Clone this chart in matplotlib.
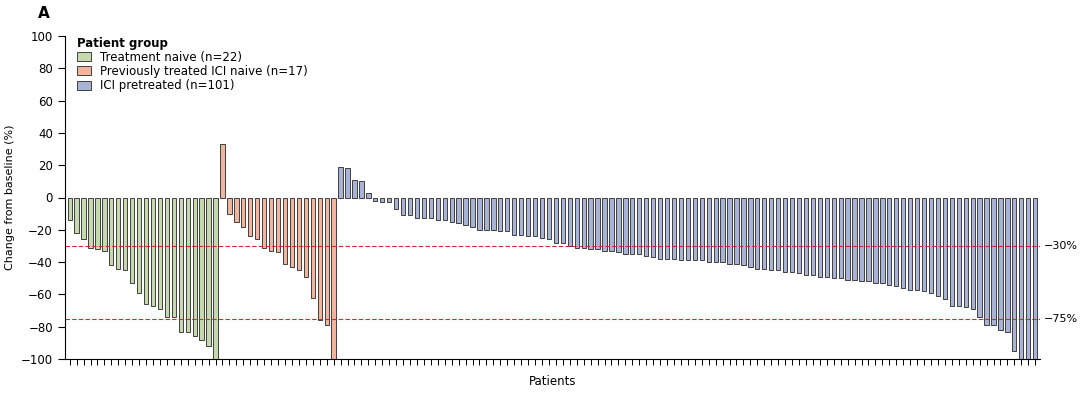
import matplotlib.pyplot as plt
import numpy as np

# Best percentage change from baseline, per patient, by group
naive = [-14, -22, -26, -31, -32, -33, -42, -44, -45, -53, -59, -66, -67, -69,
         -74, -74, -83, -83, -86, -88, -92, -100]
prev_treated = [33, -10, -15, -18, -24, -26, -31, -33, -34, -41, -43, -45, -49,
                -62, -76, -79, -100]
ici_pretreated = [19, 18, 11, 10, 3,
                  -2, -3, -3, -7, -11, -11, -13, -13, -13, -14, -14, -15, -16, -17,
                  -18, -20, -20, -20, -21, -21, -23, -23, -24, -24, -25, -26, -28,
                  -28, -30, -31, -31, -32, -32, -33, -33, -34, -35, -35, -35, -36,
                  -37, -38, -38, -38, -39, -39, -39, -39, -40,
                  -40, -40, -41, -41, -42, -43, -44, -44, -45, -45, -46, -46, -47,
                  -48, -48, -49, -49, -50, -50, -51, -51, -52, -52, -53, -53, -54,
                  -55, -56, -57, -57, -58, -59, -61, -63, -67, -67, -68, -69, -74,
                  -79, -79, -82, -83, -95, -100, -100, -100]

groups = [
    ("Treatment naive (n=22)", naive, "#c6d9ae"),
    ("Previously treated ICI naive (n=17)", prev_treated, "#f2b49c"),
    ("ICI pretreated (n=101)", ici_pretreated, "#a9b3d6"),
]

fig = plt.figure(figsize=(10.8, 4), dpi=100)
ax = fig.add_axes([0.06, 0.1025, 0.903, 0.8075])

start = 0
for label, vals, color in groups:
    x = np.arange(start, start + len(vals))
    ax.bar(x, vals, width=0.62, color=color, edgecolor="#404040", linewidth=0.7,
           label=label, zorder=2)
    start += len(vals)

n = start
ax.set_xlim(-0.7, n - 0.3)
ax.set_ylim(-100, 100)
ax.set_yticks(np.arange(-100, 101, 20))
ax.tick_params(axis="y", labelsize=8.5, length=5)
ax.set_xticks(np.arange(n))
ax.set_xticklabels([])
ax.tick_params(axis="x", length=4, width=0.7)

for s in ["top", "right"]:
    ax.spines[s].set_visible(False)

for lvl in [-30, -75]:
    ax.axhline(lvl, color="#d62728", linestyle="--", linewidth=0.8, dashes=(4, 2), zorder=3)
    ax.text(n + 0.2, lvl, f"\u2212{abs(lvl)}%", va="center", ha="left", fontsize=8)

ax.set_ylabel("Change from baseline (%)", fontsize=8)
ax.set_xlabel("Patients", fontsize=8.5)

leg = ax.legend(loc="upper left", bbox_to_anchor=(0.005, 1.02), frameon=False, fontsize=8.5,
                title="Patient group", handlelength=1.2, handleheight=0.8,
                labelspacing=0.1, borderaxespad=0.2)
leg.get_title().set_fontweight("bold")
leg.get_title().set_fontsize(8.5)
leg._legend_box.align = "left"

fig.text(0.035, 0.955, "A", fontsize=11, fontweight="bold")

fig.savefig("out.png", dpi=100)
